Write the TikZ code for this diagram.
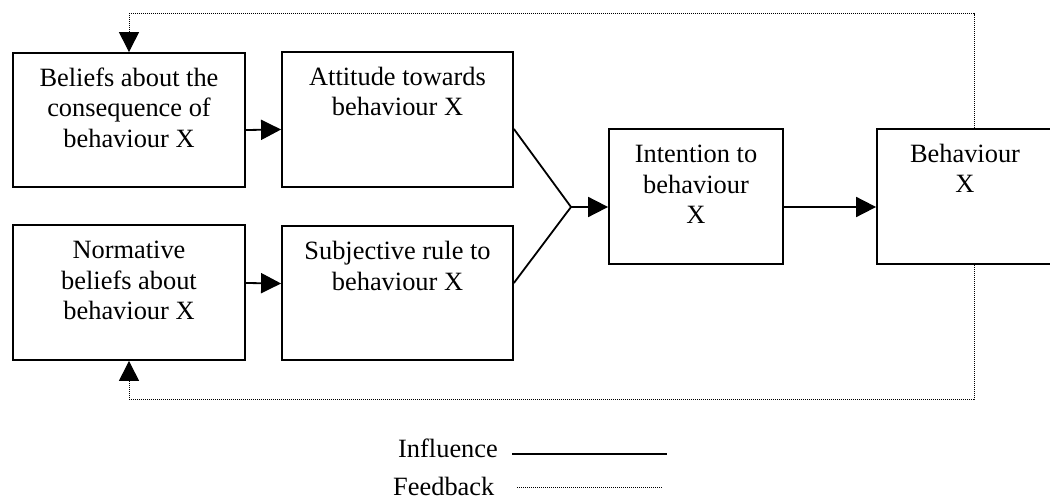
\documentclass[tikz,border=0pt]{standalone}
\usepackage{fontspec}
\setmainfont{Liberation Serif}
\usetikzlibrary{arrows.meta}
\begin{document}
\begin{tikzpicture}[x=1pt,y=-1pt,
  box/.style={draw,line width=1.8pt,inner sep=0pt},
  txt/.style={font=\fontsize{26.4}{30.4}\selectfont,align=center,inner sep=0pt},
  arr/.style={line width=1.8pt,-{Triangle[length=20pt,width=20pt]}},
  infl/.style={line width=1.8pt},
  fb/.style={line width=1pt,dash pattern=on 1pt off 1pt},
  fbarr/.style={fb,-{Triangle[length=20pt,width=20pt]}}]
\clip (0,0) rectangle (1050,500);
\useasboundingbox (0,0) rectangle (1050,500);
% boxes
\node[box,minimum width=232pt,minimum height=134pt] (b1) at (129,120) {};
\node[box,minimum width=231pt,minimum height=135pt] (b2) at (397.5,119.5) {};
\node[box,minimum width=232pt,minimum height=135pt] (b3) at (129,292.5) {};
\node[box,minimum width=231pt,minimum height=134pt] (b4) at (397.5,293) {};
\node[box,minimum width=174pt,minimum height=135pt] (int) at (696,196.5) {};
\node[box,minimum width=176pt,minimum height=135pt] (beh) at (965,196.5) {};
% texts (base anchor = baseline of last line)
\node[txt,anchor=base] (t1) at ([yshift=-95.3pt]b1.north) {Beliefs about the\\consequence of\\behaviour X};
\node[txt,anchor=base] (t2) at ([yshift=-64.9pt]b2.north) {Attitude towards\\behaviour X};
\node[txt,anchor=base] (t3) at ([yshift=-95.3pt]b3.north) {Normative\\beliefs about\\behaviour X};
\node[txt,anchor=base] (t4) at ([yshift=-64.9pt]b4.north) {Subjective rule to\\behaviour X};
\node[txt,anchor=base] (t5) at ([yshift=-95.3pt]int.north) {Intention to\\behaviour\\X};
\node[txt,anchor=base] (t6) at ([yshift=-64.9pt]beh.north) {Behaviour\\X};
% influence connectors
\draw[arr] ([yshift=-10pt]b1.east) -- ([yshift=-10pt]b2.west);
\draw[arr] ([yshift=9.5pt]b3.east) -- ([yshift=9.5pt]b4.west);
\coordinate (j) at (571,207);
\draw[infl] ([yshift=-9.5pt]b2.east) -- (j);
\draw[infl] ([yshift=10pt]b4.east) -- (j);
\draw[arr] (j) -- (int.west |- j);
\draw[arr] ([yshift=-10.5pt]int.east) -- ([yshift=-10.5pt]beh.west);
% feedback connectors
\coordinate (topy) at (0,14);
\coordinate (boty) at (0,399);
\draw[fbarr] ([xshift=9pt]beh.north) |- (b1.north |- topy) -- (b1.north);
\draw[fbarr] ([xshift=9pt]beh.south) |- (b3.south |- boty) -- (b3.south);
% legend
\node[txt,anchor=base west] (lin) at (398,457) {Influence};
\node[txt,anchor=base west] (lfb) at (393,495) {Feedback};
\coordinate (la) at (512,454);
\coordinate (lb) at (667,454);
\coordinate (lc) at (517,487);
\coordinate (ld) at (663,487);
\draw[infl] (la) -- (lb);
\draw[fb] (lc) -- (ld);
\end{tikzpicture}
\end{document}
